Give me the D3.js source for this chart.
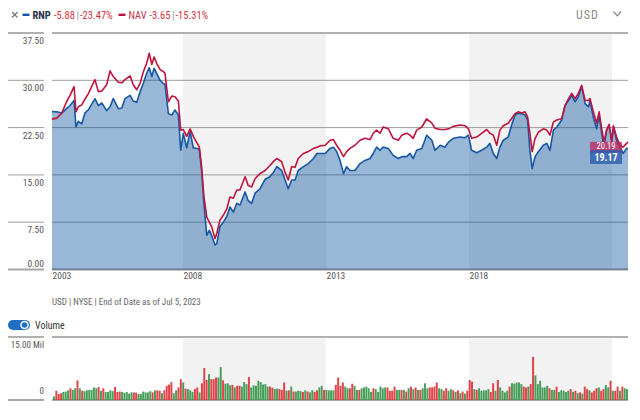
<!DOCTYPE html>
<html><head><meta charset="utf-8">
<script src="https://cdn.jsdelivr.net/npm/d3@7"></script>
<style>html,body{margin:0;padding:0;background:#fff;} svg{display:block;}</style>
</head><body>
<svg id="c" width="640" height="420"></svg>
<script>
// ---------- DATA ----------
const dates = [
2003.42,2003.59,2003.76,2003.93,2004.05,2004.19,2004.26,2004.34,2004.46,2004.57,
2004.69,2004.92,2005.04,2005.16,2005.33,2005.45,2005.56,2005.74,2005.86,2005.97,
2006.15,2006.26,2006.38,2006.50,2006.61,2006.73,2006.82,2006.91,2006.99,2007.08,
2007.20,2007.31,2007.37,2007.49,2007.61,2007.72,2007.84,2007.92,2008.01,2008.13,
2008.25,2008.36,2008.57,2008.65,2008.73,2008.83,2008.92,2009.00,2009.12,2009.18,
2009.29,2009.41,2009.53,2009.64,2009.76,2009.88,2009.99,2010.17,2010.28,2010.40,
2010.52,2010.69,2010.87,2011.04,2011.16,2011.28,2011.45,2011.57,2011.68,2011.80,
2011.92,2012.03,2012.21,2012.38,2012.56,2012.68,2012.79,2012.97,2013.14,2013.26,
2013.37,2013.49,2013.61,2013.72,2013.84,2014.01,2014.19,2014.36,2014.54,2014.65,
2014.77,2014.89,2015.00,2015.18,2015.35,2015.53,2015.65,2015.82,2015.94,2016.05,
2016.17,2016.35,2016.52,2016.70,2016.81,2016.99,2017.16,2017.28,2017.45,2017.69,
2017.86,2017.98,2018.09,2018.27,2018.44,2018.62,2018.73,2018.85,2018.97,2019.08,
2019.20,2019.37,2019.49,2019.61,2019.72,2019.84,2019.96,2020.05,2020.13,2020.21,
2020.31,2020.43,2020.60,2020.72,2020.83,2020.95,2021.07,2021.24,2021.36,2021.48,
2021.59,2021.71,2021.82,2021.94,2022.06,2022.18,2022.23,2022.35,2022.46,2022.55,
2022.64,2022.72,2022.81,2022.90,2022.99,2023.05,2023.16,2023.28,2023.39,2023.51,
2023.56];
const rnp = [
25.05,25.0,24.8,25.5,26.0,26.8,22.6,23.5,23.1,24.8,
25.3,27.1,26.0,26.4,25.2,25.8,27.1,25.5,25.6,27.1,
27.6,26.7,26.5,28.2,29.5,31.1,32.0,30.6,31.9,31.1,
30.0,29.5,29.4,24.7,24.5,25.3,24.5,18.9,21.6,19.3,
21.9,19.3,19.1,15.7,10.5,5.4,6.2,5.4,3.9,4.1,
6.8,7.5,8.4,9.9,9.1,10.5,10.2,12.3,10.9,10.5,
12.1,12.8,14.3,14.7,15.4,16.3,15.7,14.2,12.8,14.2,
14.2,15.7,16.3,16.8,17.6,18.4,18.4,18.4,19.2,19.4,
18.7,17.3,15.2,16.3,15.7,15.7,16.8,17.3,17.6,18.4,
19.4,18.9,19.4,19.2,18.1,17.6,17.9,17.9,18.4,17.6,
18.9,19.2,21.3,20.5,18.9,19.7,19.4,20.2,20.8,21.0,
20.9,21.3,18.9,18.5,18.9,19.4,20.0,18.4,17.6,19.4,
20.5,21.0,22.9,24.5,24.8,24.7,24.5,23.7,18.9,16.0,
17.9,18.7,19.7,20.0,18.9,22.1,22.6,23.7,26.1,26.8,
27.6,26.6,27.4,29.0,26.3,25.8,26.8,24.1,22.3,24.4,
21.6,19.4,22.1,22.9,20.5,22.6,20.5,19.4,18.4,19.2,
19.17];
const nav = [
23.84,24.0,24.8,26.6,27.6,29.0,25.0,25.8,26.1,27.0,
27.9,30.1,28.2,28.3,29.3,31.5,30.6,29.7,29.6,30.1,
30.7,29.3,28.5,29.5,31.3,32.7,34.3,32.5,33.7,32.7,
31.7,31.4,31.1,26.6,27.5,27.4,26.7,22.1,22.2,21.1,
22.3,21.1,19.4,16.3,11.6,8.3,7.5,6.8,4.9,5.7,
7.8,8.6,9.6,11.5,11.3,12.6,12.6,14.7,13.3,13.1,
14.4,15.2,15.7,16.5,17.1,17.6,17.1,15.4,14.2,16.3,
16.2,17.6,18.4,18.7,19.2,19.4,19.6,19.7,20.5,20.6,
19.7,18.9,17.9,18.7,19.2,19.7,20.5,20.8,20.6,21.6,
22.1,21.6,22.6,22.3,20.8,20.5,21.3,21.6,21.3,20.8,
22.1,22.6,23.9,23.2,22.4,22.2,22.2,22.3,22.7,22.9,
22.8,22.3,20.8,21.0,21.6,22.2,21.6,21.3,19.7,22.1,
22.8,23.2,23.9,24.7,25.0,24.8,25.0,24.2,21.6,18.7,
20.8,21.8,22.3,22.1,21.3,23.4,23.7,23.9,26.0,27.1,
27.9,27.1,27.9,29.2,26.8,26.8,27.1,25.0,23.2,25.0,
22.3,20.2,22.1,23.0,20.2,22.8,21.0,19.7,19.4,20.0,
20.19];
// monthly volume, millions of shares
const volume = [
0.6,2.0,1.2,1.4,1.7,1.8,2.1,2.6,2.2,2.6,4.5,2.6,2.0,1.9,2.1,2.2,2.2,2.8,2.6,2.9,2.0,2.6,1.7,1.7,2.1,1.9,2.9,1.7,1.8,1.7,1.5,1.7,1.3,1.6,1.6,1.5,1.2,1.2,1.8,1.6,1.6,1.9,1.6,2.1,2.1,2.0,1.4,2.1,3.2,3.5,4.1,1.4,2.1,2.8,4.8,4.0,2.5,2.4,2.1,1.7,2.4,
2.8,1.6,3.8,7.5,4.6,6.0,4.8,4.8,5.2,5.2,7.7,4.5,3.7,3.8,3.3,3.4,2.8,3.2,3.2,3.0,4.1,3.6,5.3,2.8,3.3,3.2,4.4,4.1,3.5,3.6,3.0,3.0,2.7,2.4,2.5,2.4,2.2,4.0,2.0,2.1,3.0,1.8,1.8,2.0,1.9,1.7,2.1,1.8,1.6,2.1,1.7,2.1,2.8,3.2,2.2,2.2,2.1,2.1,2.1,3.4,5.2,3.2,4.0,
3.0,2.6,2.6,3.7,3.2,2.2,2.2,2.6,2.8,3.0,2.6,1.7,2.6,2.4,1.7,3.0,2.6,2.8,2.8,2.0,2.0,3.0,2.2,2.2,2.2,2.2,1.8,2.6,3.0,2.4,2.8,2.2,2.2,2.6,3.8,2.6,2.8,2.8,3.0,4.0,2.6,2.4,2.0,2.6,2.0,2.4,2.1,1.7,2.1,1.4,1.8,1.3,2.0,4.6,4.2,2.4,2.2,2.6,2.0,2.1,2.1,2.4,1.7,3.8,
2.0,4.6,2.8,2.0,1.6,2.0,3.0,3.8,3.7,4.0,4.0,3.6,3.0,2.8,3.0,3.6,10.2,5.7,3.6,4.4,2.8,2.8,3.2,2.6,2.2,2.2,3.0,1.7,2.1,2.0,1.7,2.0,2.4,1.7,2.0,1.4,1.6,1.3,3.0,2.4,2.1,1.6,2.0,2.6,2.8,2.0,2.4,3.4,2.8,4.4,2.0,2.0,3.0,2.0,3.0,2.6,2.4];
// month direction: g = up, r = down
const volumeDir = (
 "grrrgggrgg"+"rgrggggggr"+"grggggrrrg"+"ggggrrgggg"+"ggrgrrgrrr"+"rggrrgrggg"+"r"+
 "rgrrrgrrrg"+"grgggrgrrg"+"ggrggggggg"+"grrggrrrgr"+"grgggrgrgg"+"rrggrggggr"+"rrr"+
 "ggrrggrggg"+"ggrgggggrr"+"rrggrgrgrg"+"rgrgggrrrr"+"ggrrggrgrg"+"rgrrrgrggg"+"ggrr"+
 "grggggrggg"+"ggrrgrrggg"+"gggrggrggg"+"ggrgrgrgrr"+"grrrgrrggr"+"grrgrgg").split("");
const yTicks = [0, 7.5, 15, 22.5, 30, 37.5];
const yearTicks = [2008, 2013, 2018];
const shadedBands = [[2008, 2013], [2018, 2023]];
const volTicks = [0, 15];
const volTickLabels = ["0", "15.00 Mil"];
const seriesNames = ["RNP", "NAV"];
const seriesChange = ["-5.88", "-3.65"];
const seriesChangePct = ["-23.47%", "-15.31%"];
const footerText = "USD | NYSE | End of Date as of Jul 5, 2023";
const currency = "USD";

// ---------- DRAW ----------
const FONT = "'Roboto Condensed','Liberation Sans Narrow','Arial Narrow','DejaVu Sans Condensed',sans-serif";
const BLUE = "#1658a5", RED = "#c0143c";
function toDate(t){const y=Math.floor(t);const a=Date.UTC(y,0,1), b=Date.UTC(y+1,0,1);return new Date(a+(t-y)*(b-a));}
const svg = d3.select("#c").style("font-family", FONT);
const L = 52, R = 628, T = 33, B = 269.5;
const VT = 337, VB = 400;

const x = d3.scaleUtc().domain([toDate(dates[0]), toDate(dates[dates.length-1])]).range([L, R]);
const y = d3.scaleLinear().domain([0, 37.5]).range([B, T]);
const series = dates.map((d, i) => ({date: toDate(d), rnp: rnp[i], nav: nav[i]}));

// header
const hdr = svg.append("g");
hdr.append("path").attr("d","M12,12 L17.5,17.5 M17.5,12 L12,17.5").attr("stroke","#777").attr("stroke-width",1.3);
hdr.append("line").attr("x1",22.5).attr("x2",29.5).attr("y1",14.8).attr("y2",14.8).attr("stroke",BLUE).attr("stroke-width",2.4);
hdr.append("line").attr("x1",118.5).attr("x2",125.5).attr("y1",14.8).attr("y2",14.8).attr("stroke",RED).attr("stroke-width",2.4);
const hy = 18.5, hs = 10.5;
function ht(xx, txt, fill, w){hdr.append("text").attr("x",xx).attr("y",hy).attr("font-size",hs).attr("fill",fill).attr("font-weight",w||400).text(txt);}
ht(32.5, seriesNames[0], "#253046", 700);
ht(54, seriesChange[0], "#d2323c");
ht(76.5, "|", "#999");
ht(80, seriesChangePct[0], "#d2323c");
ht(128.5, seriesNames[1], "#bf3550");
ht(149.5, seriesChange[1], "#d2323c");
ht(172, "|", "#999");
ht(175.5, seriesChangePct[1], "#d2323c");
hdr.append("text").attr("x",576).attr("y",19).attr("font-size",12).attr("letter-spacing",1).attr("fill","#8a8a8a").text(currency);
hdr.append("path").attr("d","M613.5,11.5 L617.3,15.8 L621,11.5").attr("fill","none").attr("stroke","#8a8a8a").attr("stroke-width",1.2);

// shaded bands
shadedBands.forEach(([a,b]) => {
  const x0 = x(toDate(a)), x1 = x(toDate(b));
  svg.append("rect").attr("x",x0).attr("y",T+1).attr("width",x1-x0).attr("height",B-T-1).attr("fill","#f2f2f2");
  svg.append("rect").attr("x",x0).attr("y",VT+1.5).attr("width",x1-x0).attr("height",VB-VT-2.5).attr("fill","#f2f2f2");
});

// gridlines + y labels
yTicks.forEach(v => {
  const yy = y(v), edge = (v===0 || v===37.5);
  const col = v===37.5 ? "#b0b0b0" : (v===0 ? "#8f8f8f" : "#9c9c9c");
  svg.append("line").attr("x1",L).attr("x2",R).attr("y1",yy).attr("y2",yy).attr("stroke",col).attr("stroke-width",edge?2:1);
  svg.append("line").attr("x1",8).attr("x2",44).attr("y1",yy).attr("y2",yy).attr("stroke",v===0?"#a8a8a8":col).attr("stroke-width",edge?2:1);
  svg.append("text").attr("x",44).attr("y", v===0 ? yy-3 : yy+11).attr("text-anchor","end")
    .attr("font-size",9.5).attr("fill","#555").text(d3.format(".2f")(v));
});

// area + lines
svg.append("path").datum(series).attr("fill","#0b549e").attr("fill-opacity",0.42)
  .attr("d", d3.area().x(d=>x(d.date)).y0(y(0)).y1(d=>y(d.rnp)));
svg.append("path").datum(series).attr("fill","none").attr("stroke",BLUE).attr("stroke-width",1.6).attr("stroke-linejoin","round")
  .attr("d", d3.line().x(d=>x(d.date)).y(d=>y(d.rnp)));
svg.append("path").datum(series).attr("fill","none").attr("stroke",RED).attr("stroke-width",1.6).attr("stroke-linejoin","round")
  .attr("d", d3.line().x(d=>x(d.date)).y(d=>y(d.nav)));

// end labels
const lastNav = nav[nav.length-1], lastRnp = rnp[rnp.length-1];
const ly1 = y(lastNav), ly2 = y(lastRnp);
svg.append("rect").attr("x",590).attr("y",ly1-0.5).attr("width",32).attr("height",11).attr("rx",1).attr("fill","#c0245a").attr("fill-opacity",0.75);
svg.append("text").attr("x",606).attr("y",ly1+7).attr("text-anchor","middle").attr("font-size",8.5).attr("fill","#fff").text(lastNav.toFixed(2));
svg.append("rect").attr("x",590).attr("y",ly2+1.5).attr("width",32).attr("height",14).attr("rx",1).attr("fill","#2a5db0").attr("fill-opacity",0.8);
svg.append("text").attr("x",606).attr("y",ly2+12.5).attr("text-anchor","middle").attr("font-size",10).attr("font-weight",700).attr("fill","#fff").text(lastRnp.toFixed(2));

// x axis
const xTickDates = [toDate(dates[0])].concat(yearTicks.map(toDate));
const xa = svg.append("g").attr("transform",`translate(0,${B})`)
  .call(d3.axisBottom(x).tickValues(xTickDates).tickSize(0).tickPadding(3).tickFormat(d3.utcFormat("%Y")));
xa.select(".domain").remove();
xa.selectAll("text").attr("text-anchor","start").attr("font-size",9.5).attr("fill","#555").attr("font-family",FONT);

// footer
svg.append("text").attr("x",52).attr("y",305).attr("font-size",9).attr("fill","#666").text(footerText);

// volume toggle
svg.append("rect").attr("x",8).attr("y",320).attr("width",22).attr("height",10).attr("rx",5).attr("fill","#1f6fc5");
svg.append("circle").attr("cx",24.5).attr("cy",325).attr("r",4.3).attr("fill","#fff");
svg.append("circle").attr("cx",24.5).attr("cy",325).attr("r",2.8).attr("fill","#1f6fc5");
svg.append("text").attr("x",35).attr("y",328.5).attr("font-size",10).attr("fill","#333").text("Volume");

// volume panel
const yv = d3.scaleLinear().domain([0, 15]).range([VB-1, VT]);
const xb = d3.scaleBand().domain(d3.range(volume.length)).range([L+1, R]).paddingInner(0.16);
[VT, VB].forEach((yy,i) => {
  svg.append("line").attr("x1",L).attr("x2",R).attr("y1",yy).attr("y2",yy).attr("stroke",i?"#a8a8a8":"#b0b0b0").attr("stroke-width",2);
  svg.append("line").attr("x1",8).attr("x2",44).attr("y1",yy).attr("y2",yy).attr("stroke",i?"#a8a8a8":"#b0b0b0").attr("stroke-width",2);
});
volTicks.forEach((v,i) => {
  svg.append("text").attr("x",44).attr("y", v===0 ? yv(v)-5 : yv(v)+10.5).attr("text-anchor","end")
    .attr("font-size",9).attr("fill","#555").text(volTickLabels[i]);
});
svg.append("g").selectAll("rect").data(volume).join("rect")
  .attr("x",(d,i)=>xb(i)).attr("width",xb.bandwidth())
  .attr("y",d=>yv(d)).attr("height",d=>yv(0)-yv(d)+1)
  .attr("fill",(d,i)=>volumeDir[i]==="r" ? "#e0343c" : "#3a974c").attr("fill-opacity",0.92);
</script>
</body></html>
